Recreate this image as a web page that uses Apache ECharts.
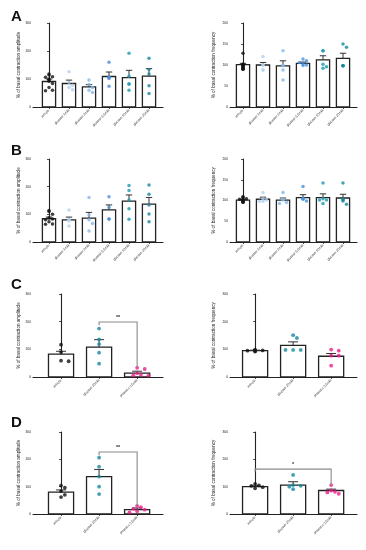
<!DOCTYPE html>
<html><head><meta charset="utf-8">
<script src="https://cdn.jsdelivr.net/npm/echarts@6/dist/echarts.min.js"></script>
<style>html,body{margin:0;padding:0;background:#fff}#c{width:366px;height:550px}</style>
</head><body><div id="c"></div>
<script>
// ---------- DATA ----------
const catsGlucose = ['vehicle','glucose 1mM','glucose 2mM','glucose 5.5mM','glucose 10mM','glucose 20mM'];
const catsPhlor = ['vehicle','glucose 20mM','phloretin 0.5mM'];
const ampTitle = '% of basal contraction amplitude';
const freqTitle = '% of basal contraction frequency';

const ampA_mean = [91, 84, 72, 109, 105, 110];
const ampA_sem  = [9, 12, 8, 16, 26, 27];
const ampA_pts  = [[118,114,108,106,100,96,92,84,70,60,58],[126,88,78,70,62],[96,80,70,60,52],[160,106,106,102,74],[192,110,82,82,60],[174,134,118,76,48]];

const freqA_mean = [101, 100, 98, 104, 112, 116];
const freqA_sem  = [3, 6, 12, 3, 10, 12];
const freqA_pts  = [[128,102,101,100,99,98,96,94,92,90,90],[120,100,100,88,88],[134,100,98,88,64],[114,110,106,103,100,99],[134,134,102,96,92],[150,142,98,98,98]];

const ampB_mean = [84, 80, 86, 116, 148, 137];
const ampB_sem  = [6, 10, 21, 18, 22, 24];
const ampB_pts  = [[114,110,100,88,83,80,73,65,64],[116,82,80,76,58],[161,98,80,67,40],[164,125,83,83],[204,186,152,120,82],[206,173,134,101,73]];

const freqB_mean = [101, 103, 101, 107, 107, 106];
const freqB_sem  = [2, 5, 5, 7, 9, 9];
const freqB_pts  = [[109,108,104,103,102,101,100,98,96,96],[119,104,101,98,98],[119,103,101,95,93],[134,105,104,103,99],[142,104,101,101,93],[142,103,101,99,91]];

const ampC_mean = [83, 108, 14];
const ampC_sem  = [10, 27, 7];
const ampC_pts  = [[117,90,59,57],[175,136,119,88,48],[33,29,14,8,6,5]];

const freqC_mean = [95, 114, 75];
const freqC_sem  = [2, 13, 10];
const freqC_pts  = [[99,96,95,94,92],[151,141,98,98,98],[99,95,77,77,41]];

const ampD_mean = [80, 137, 16];
const ampD_sem  = [8, 26, 6];
const ampD_pts  = [[104,96,84,70,62],[206,173,137,100,73],[30,25,19,16,10,6]];

const freqD_mean = [100, 106, 86];
const freqD_sem  = [3, 12, 5];
const freqD_pts  = [[110,105,103,98,94],[143,106,103,100,91],[106,86,81,79,74]];

// significance brackets: [from index, to index, bar top value, left end value, right end value, label]
const sigC_amp  = [1, 2, 199, 187, 36, '**'];
const sigD_amp  = [1, 2, 227, 215, 30, '**'];
const sigD_freq = [0, 2, 164, 155, 106, '*'];

const yTicksA_amp = [0, 100, 200, 300];
const yTicksA_freq = [0, 50, 100, 150, 200];

// ---------- STYLE / LAYOUT ----------
const colGlucose = ['#111111','#b3d0f0','#86b6ea','#4a8fdc','#1a9ab2','#14889f'];
const colPhlor = ['#111111','#14889f','#ec1c8a'];
const FONT = 'Liberation Sans';

const panels = [
  {g:{left:33,top:23,width:130,height:84}, xmin:-0.8, xmax:5.7, sp:20, cats:catsGlucose, col:colGlucose, m:ampA_mean, s:ampA_sem, p:ampA_pts, yt:yTicksA_amp, t:ampTitle, ng:11, ms:3.5},
  {g:{left:230,top:23,width:127,height:84}, xmin:-0.65, xmax:5.7, sp:20, cats:catsGlucose, col:colGlucose, m:freqA_mean, s:freqA_sem, p:freqA_pts, yt:yTicksA_freq, t:freqTitle, ng:14, ms:3.5},
  {g:{left:33,top:159,width:130,height:83}, xmin:-0.8, xmax:5.7, sp:20, cats:catsGlucose, col:colGlucose, m:ampB_mean, s:ampB_sem, p:ampB_pts, yt:yTicksA_amp, t:ampTitle, ng:11, ms:3.5},
  {g:{left:230,top:159,width:127,height:83}, xmin:-0.65, xmax:5.7, sp:20, cats:catsGlucose, col:colGlucose, m:freqB_mean, s:freqB_sem, p:freqB_pts, yt:yTicksA_freq, t:freqTitle, ng:14, ms:3.5},
  {g:{left:33,top:294,width:130,height:83}, xmin:-0.737, xmax:2.68, sp:38, cats:catsPhlor, col:colPhlor, m:ampC_mean, s:ampC_sem, p:ampC_pts, yt:yTicksA_amp, t:ampTitle, ng:11, ms:3.8, sig:sigC_amp},
  {g:{left:230,top:294,width:127,height:83}, xmin:-0.66, xmax:2.68, sp:38, cats:catsPhlor, col:colPhlor, m:freqC_mean, s:freqC_sem, p:freqC_pts, yt:yTicksA_amp, t:freqTitle, ng:14, ms:3.8},
  {g:{left:33,top:432,width:130,height:82}, xmin:-0.737, xmax:2.68, sp:38, cats:catsPhlor, col:colPhlor, m:ampD_mean, s:ampD_sem, p:ampD_pts, yt:yTicksA_amp, t:ampTitle, ng:11, ms:3.8, sig:sigD_amp},
  {g:{left:230,top:432,width:127,height:82}, xmin:-0.66, xmax:2.68, sp:38, cats:catsPhlor, col:colPhlor, m:freqD_mean, s:freqD_sem, p:freqD_pts, yt:yTicksA_amp, t:freqTitle, ng:14, ms:3.8, sig:sigD_freq}
];

// beeswarm offsets (in x units) computed from layout, not data
function swarm(vals, pxX, pxY, d, maxPx) {
  const placed = [], out = [];
  vals.forEach(v => {
    const y = v * pxY;
    let chosen = 0;
    for (let k = 0; k < 20; k++) {
      const off = (k === 0 ? 0 : (k % 2 ? 1 : -1) * Math.ceil(k / 2) * d);
      if (Math.abs(off) > maxPx) break;
      const ok = placed.every(q => (q[0]-off)**2 + (q[1]-y)**2 >= (d*1.05)**2);
      if (ok) { chosen = off; break; }
    }
    placed.push([chosen, y]);
    out.push(chosen / pxX);
  });
  return out;
}

const grid = [], xAxis = [], yAxis = [], series = [];
panels.forEach((P, i) => {
  const ymax = P.yt[P.yt.length-1];
  grid.push(Object.assign({containLabel:false}, P.g));
  const idx = P.cats.map((c, k) => k);
  xAxis.push({type:'value', gridIndex:i, min:P.xmin, max:P.xmax, splitLine:{show:false},
    axisLine:{show:true, onZero:false, lineStyle:{color:'#222', width:1.1}},
    axisTick:{show:true, customValues:idx, length:2, lineStyle:{color:'#222', width:0.8}},
    axisLabel:{show:true, customValues:idx, rotate:45, fontSize:3.3, margin:3, color:'#222', fontFamily:FONT,
      formatter:v => P.cats[Math.round(v)]}});
  yAxis.push({type:'value', gridIndex:i, min:0, max:ymax, interval:P.yt[1]-P.yt[0], splitLine:{show:false},
    axisLine:{show:true, lineStyle:{color:'#222', width:1.1}},
    axisTick:{show:true, length:2, lineStyle:{color:'#222', width:0.8}},
    axisLabel:{fontSize:3.3, margin:2, color:'#222', fontFamily:FONT},
    name:P.t, nameLocation:'middle', nameRotate:90, nameGap:P.ng,
    nameTextStyle:{fontSize:4.6, color:'#222', fontFamily:FONT}});
  const barData = P.m.map((m, k) => [k, m, P.s[k]]);
  series.push({type:'custom', xAxisIndex:i, yAxisIndex:i, data:barData, z:2,
    renderItem:(params, api) => {
      const x = api.value(0), m = api.value(1);
      const a = api.coord([x-0.33, m]), b = api.coord([x+0.33, 0]);
      return {type:'rect', shape:{x:a[0], y:a[1], width:b[0]-a[0], height:b[1]-a[1]},
        style:{fill:'#fff', stroke:'#222', lineWidth:1.3}};
    }});
  series.push({type:'custom', xAxisIndex:i, yAxisIndex:i, data:barData, z:3,
    renderItem:(params, api) => {
      const x = api.value(0), m = api.value(1), s = api.value(2);
      const a = api.coord([x, m]), t = api.coord([x, m+s]);
      const cw = P.sp === 20 ? 3.2 : 5;
      return {type:'group', children:[
        {type:'line', shape:{x1:a[0], y1:a[1], x2:t[0], y2:t[1]}, style:{stroke:'#333', lineWidth:1}},
        {type:'line', shape:{x1:t[0]-cw, y1:t[1], x2:t[0]+cw, y2:t[1]}, style:{stroke:'#333', lineWidth:1}}
      ]};
    }});
  const pxY = P.g.height / ymax;
  P.p.forEach((vals, k) => {
    const offs = swarm(vals, P.sp, pxY, P.ms, P.sp*0.32);
    series.push({type:'scatter', xAxisIndex:i, yAxisIndex:i, z:4, symbol:'circle', symbolSize:P.ms,
      itemStyle:{color:P.col[k]}, silent:true,
      data: vals.map((v, j) => [k + offs[j], v])});
  });
  if (P.sig) {
    series.push({type:'custom', xAxisIndex:i, yAxisIndex:i, z:5, data:[P.sig],
      renderItem:(params, api) => {
        const s = P.sig;
        const l = api.coord([s[0], s[2]]), r = api.coord([s[1], s[2]]);
        const le = api.coord([s[0], s[3]]), re = api.coord([s[1], s[4]]);
        return {type:'group', children:[
          {type:'polyline', shape:{points:[[le[0],le[1]],[l[0],l[1]],[r[0],r[1]],[re[0],re[1]]]}, style:{stroke:'#8a8a8a', lineWidth:1.1, fill:null}},
          {type:'text', style:{text:s[5], x:(l[0]+r[0])/2, y:l[1]-1.5, align:'center', verticalAlign:'bottom', fontSize:5.5, fill:'#333', fontFamily:FONT, fontWeight:'bold'}}
        ]};
      }});
  }
});

const letters = [['A',11,9],['B',11,143],['C',11,277],['D',11,415]];
const chart = echarts.init(document.getElementById('c'), null, {renderer:'canvas'});
chart.setOption({
  animation:false,
  backgroundColor:'#fff',
  grid, xAxis, yAxis, series,
  graphic: letters.map(L => ({type:'text', left:L[1], top:L[2],
    style:{text:L[0], fontSize:15, fontWeight:'bold', fill:'#111', fontFamily:FONT}}))
});
</script></body></html>
